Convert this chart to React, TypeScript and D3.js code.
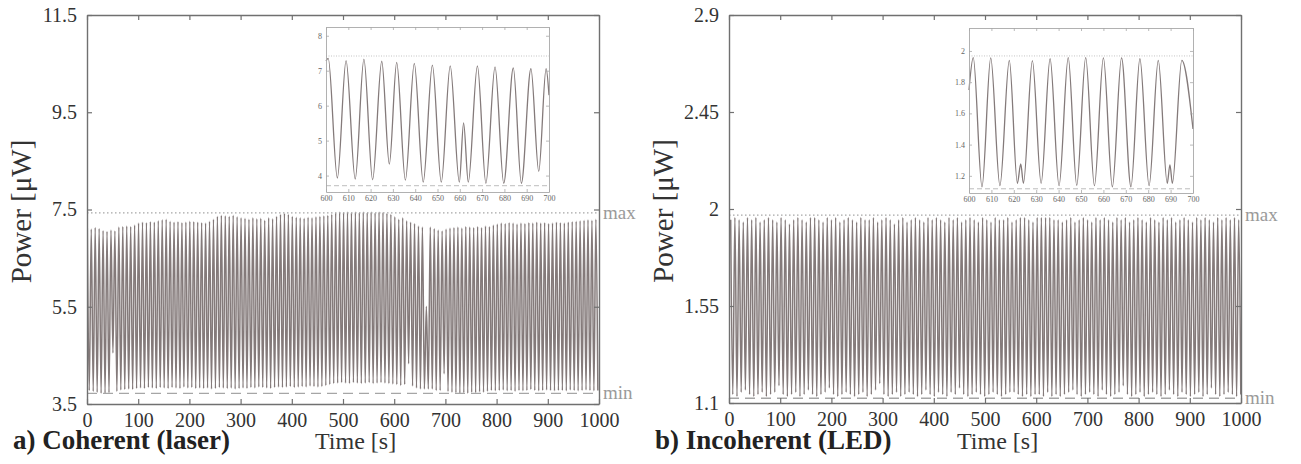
import React, { useEffect, useRef } from 'react';
import * as d3 from 'd3';

// time axis (both panels)
const X_TICKS = [0, 100, 200, 300, 400, 500, 600, 700, 800, 900, 1000];
const INSET_X_TICKS = [600, 610, 620, 630, 640, 650, 660, 670, 680, 690, 700];

// a) coherent (laser): one peak + one trough per cycle
const LASER_PERIOD = 7.7;
const LASER_T0 = 0.6;
const LASER_PEAKS = [
  7.12, 7.10, 7.13, 7.11, 7.07, 7.05, 7.08, 7.06, 7.14, 7.15,
  7.16, 7.15, 7.18, 7.22, 7.24, 7.23, 7.25, 7.24, 7.27, 7.29,
  7.30, 7.26, 7.24, 7.25, 7.23, 7.24, 7.26, 7.25, 7.24, 7.23,
  7.22, 7.26, 7.30, 7.36, 7.38, 7.37, 7.36, 7.38, 7.35, 7.33,
  7.32, 7.30, 7.33, 7.31, 7.32, 7.28, 7.33, 7.31, 7.36, 7.40,
  7.42, 7.40, 7.36, 7.34, 7.33, 7.32, 7.34, 7.33, 7.35, 7.36,
  7.37, 7.38, 7.40, 7.43, 7.45, 7.44, 7.45, 7.43, 7.45, 7.44,
  7.45, 7.44, 7.45, 7.43, 7.45, 7.44, 7.42, 7.40, 7.35, 7.30,
  7.33, 7.27, 7.24, 7.21, 7.16, 7.14, 5.51, 7.14, 7.11, 7.08,
  7.06, 7.10, 7.12, 7.13, 7.14, 7.12, 7.15, 7.14, 7.13, 7.15,
  7.13, 7.16, 7.15, 7.18, 7.20, 7.22, 7.21, 7.23, 7.22, 7.20,
  7.22, 7.21, 7.23, 7.22, 7.24, 7.22, 7.23, 7.21, 7.22, 7.24,
  7.23, 7.22, 7.24, 7.25, 7.26, 7.27, 7.28, 7.29, 7.28, 7.30,
];
const LASER_TROUGHS = [
  3.78, 3.76, 3.74, 3.72, 3.72, 3.73, 4.55, 3.76, 3.79, 3.80,
  3.81, 3.80, 3.82, 3.83, 3.82, 3.84, 3.83, 3.82, 3.84, 3.83,
  3.82, 3.84, 3.83, 3.82, 3.85, 3.83, 3.84, 3.82, 3.83, 3.82,
  3.83, 3.81, 3.82, 3.84, 3.83, 3.82, 3.83, 3.81, 3.82, 3.83,
  3.82, 3.84, 3.83, 3.85, 3.84, 3.83, 3.82, 3.84, 3.85, 3.84,
  3.85, 3.86, 3.84, 3.85, 3.86, 3.85, 3.87, 3.86, 3.85, 3.86,
  3.88, 3.90, 3.92, 3.93, 3.94, 3.93, 3.92, 3.94, 3.93, 3.92,
  3.93, 3.94, 3.92, 3.93, 3.94, 3.93, 3.92, 3.91, 3.90, 3.88,
  3.90, 4.33, 3.87, 3.83, 3.81, 3.81, 3.81, 3.81, 3.78, 3.78,
  4.12, 3.76, 3.74, 3.73, 3.72, 3.73, 3.72, 3.74, 3.73, 3.75,
  3.74, 3.76, 3.78, 3.77, 3.78, 3.79, 3.77, 3.78, 3.76, 3.78,
  3.77, 3.78, 3.80, 3.78, 3.77, 3.78, 3.79, 3.78, 3.77, 3.78,
  3.78, 3.77, 3.79, 3.78, 3.77, 3.78, 3.79, 3.78, 3.77, 3.78,
];
const LASER_Y_TICKS = [3.5, 5.5, 7.5, 9.5, 11.5];
const LASER_MAX = 7.43;
const LASER_MIN = 3.72;

// laser inset 600-700 s: extrema (time, value)
const LASER_INSET_T = [
  600, 601, 605.1, 609, 613.1, 617, 620.9, 625, 628.4, 631.7, 635.6, 639.6, 643.6, 647.7,
  651.7, 655.7, 659.8, 661.7, 663.8, 667.9, 671.7, 675.8, 679.7, 684, 687.6, 691.9, 695.4,
  698.7, 700,
];
const LASER_INSET_V = [
  7.28, 7.35, 3.93, 7.29, 3.9, 7.33, 3.88, 7.27, 4.33, 7.24, 3.87, 7.21, 3.81, 7.16,
  3.81, 7.14, 3.81, 5.51, 3.81, 7.14, 3.78, 7.11, 3.78, 7.08, 3.78, 7.06, 4.12,
  7.06, 6.3,
];
const LASER_INSET_Y_TICKS = [4, 5, 6, 7, 8];

// b) incoherent (LED)
const LED_PERIOD = 8.2;
const LED_T0 = 3.3;
const LED_PEAKS = [
  1.95, 1.96, 1.95, 1.94, 1.96, 1.95, 1.96, 1.94, 1.95, 1.96,
  1.95, 1.94, 1.96, 1.95, 1.93, 1.95, 1.96, 1.95, 1.94, 1.96,
  1.96, 1.95, 1.94, 1.96, 1.95, 1.96, 1.94, 1.95, 1.96, 1.95,
  1.94, 1.96, 1.95, 1.95, 1.96, 1.94, 1.95, 1.96, 1.95, 1.93,
  1.95, 1.96, 1.94, 1.95, 1.96, 1.95, 1.94, 1.96, 1.95, 1.96,
  1.95, 1.94, 1.96, 1.95, 1.96, 1.94, 1.95, 1.96, 1.95, 1.94,
  1.96, 1.95, 1.94, 1.96, 1.95, 1.95, 1.96, 1.94, 1.95, 1.96,
  1.96, 1.95, 1.94, 1.96, 1.96, 1.96, 1.96, 1.95, 1.95, 1.94,
  1.95, 1.96, 1.94, 1.95, 1.96, 1.95, 1.94, 1.96, 1.95, 1.96,
  1.95, 1.94, 1.96, 1.95, 1.96, 1.94, 1.95, 1.96, 1.95, 1.94,
  1.96, 1.95, 1.94, 1.96, 1.95, 1.96, 1.94, 1.95, 1.96, 1.95,
  1.94, 1.96, 1.95, 1.96, 1.95, 1.94, 1.96, 1.95, 1.96, 1.95,
  1.96, 1.95,
];
const LED_TROUGHS = [
  1.14, 1.13, 1.15, 1.16, 1.14, 1.13, 1.14, 1.15, 1.13, 1.14,
  1.15, 1.18, 1.14, 1.13, 1.14, 1.15, 1.13, 1.14, 1.16, 1.14,
  1.13, 1.14, 1.15, 1.17, 1.14, 1.13, 1.14, 1.15, 1.14, 1.13,
  1.14, 1.15, 1.13, 1.14, 1.16, 1.19, 1.14, 1.13, 1.14, 1.15,
  1.13, 1.14, 1.15, 1.14, 1.13, 1.14, 1.16, 1.14, 1.13, 1.15,
  1.14, 1.13, 1.15, 1.14, 1.17, 1.14, 1.13, 1.14, 1.15, 1.14,
  1.13, 1.14, 1.15, 1.14, 1.13, 1.14, 1.15, 1.15, 1.14, 1.13,
  1.14, 1.13, 1.14, 1.14, 1.13, 1.15, 1.13, 1.14, 1.13, 1.14,
  1.15, 1.16, 1.14, 1.13, 1.14, 1.15, 1.14, 1.13, 1.16, 1.14,
  1.13, 1.14, 1.15, 1.18, 1.14, 1.13, 1.14, 1.15, 1.13, 1.14,
  1.15, 1.14, 1.13, 1.14, 1.16, 1.14, 1.13, 1.15, 1.14, 1.13,
  1.14, 1.15, 1.13, 1.14, 1.17, 1.14, 1.13, 1.14, 1.15, 1.14,
  1.13, 1.14,
];
const LED_Y_TICKS = [1.1, 1.55, 2, 2.45, 2.9];
const LED_MAX = 1.972;
const LED_MIN = 1.122;

const LED_INSET_T = [
  600, 601.9, 605.8, 609.7, 613.8, 618, 621.6, 623.1, 624.3, 628.3, 632.2, 636.2, 640.2,
  644.3, 648.1, 652.1, 656, 660, 664, 668.1, 672.3, 676.3, 680.4, 684.5, 688.5, 689.7,
  690.8, 695, 700,
];
const LED_INSET_V = [
  1.75, 1.957, 1.13, 1.955, 1.137, 1.94, 1.152, 1.276, 1.152, 1.938, 1.152, 1.95, 1.137,
  1.957, 1.14, 1.957, 1.137, 1.955, 1.13, 1.955, 1.13, 1.95, 1.137, 1.94, 1.152, 1.27,
  1.152, 1.94, 1.5,
];
const LED_INSET_Y_TICKS = [1.2, 1.4, 1.6, 1.8, 2];

const SERIF = "'Liberation Serif', 'Times New Roman', Times, serif";
const TRACE = '#847a7a';
const AXIS = '#707070';
const TEXT = '#333';
const GUIDE = '#a6a6a6';

const line = d3.line().curve(d3.curveMonotoneX);

function drawPanel(svg, p) {
  const g = svg.append('g');
  const x = d3.scaleLinear().domain([0, 1000]).range([p.x0, p.x1]);
  const y = d3.scaleLinear().domain(p.yDomain).range([p.y1, p.y0]);

  svg.append('clipPath').attr('id', 'clip-' + p.id)
    .append('rect')
    .attr('x', p.x0).attr('y', p.y0)
    .attr('width', p.x1 - p.x0).attr('height', p.y1 - p.y0);

  const pts = p.peaks.flatMap((pk, i) => [
    [x(p.t0 + i * p.period), y(pk)],
    [x(p.t0 + (i + 0.5) * p.period), y(p.troughs[i])],
  ]);
  g.append('path')
    .attr('d', line(pts))
    .attr('fill', 'none')
    .attr('stroke', TRACE)
    .attr('stroke-width', 1.5)
    .attr('clip-path', `url(#clip-${p.id})`);

  // max / min guides
  g.append('line')
    .attr('x1', p.x0).attr('x2', p.x1)
    .attr('y1', y(p.maxV)).attr('y2', y(p.maxV))
    .attr('stroke', GUIDE).attr('stroke-width', 1.3).attr('stroke-dasharray', '1.5,2.5');
  g.append('line')
    .attr('x1', p.x0).attr('x2', p.x1)
    .attr('y1', y(p.minV)).attr('y2', y(p.minV))
    .attr('stroke', GUIDE).attr('stroke-width', 1.3).attr('stroke-dasharray', '10,6');

  const styleAxis = (sel) => {
    sel.attr('font-family', null).attr('font-size', null);
    sel.select('.domain').attr('stroke', AXIS).attr('stroke-width', 1.4);
    sel.selectAll('.tick line').attr('stroke', AXIS).attr('stroke-width', 1.2);
    sel.selectAll('.tick text')
      .style('font-family', SERIF).style('font-size', '20px')
      .attr('fill', TEXT);
  };

  g.append('g').attr('transform', `translate(0,${p.y1})`)
    .call(d3.axisBottom(x).tickValues(X_TICKS).tickSize(-5).tickSizeOuter(0).tickPadding(9).tickFormat(d3.format('d')))
    .call(styleAxis);
  g.append('g').attr('transform', `translate(0,${p.y0})`)
    .call(d3.axisTop(x).tickValues(X_TICKS).tickSize(-5).tickSizeOuter(0).tickFormat(() => ''))
    .call(styleAxis);
  g.append('g').attr('transform', `translate(${p.x0},0)`)
    .call(d3.axisLeft(y).tickValues(p.yTicks).tickSize(-5).tickSizeOuter(0).tickPadding(10).tickFormat((d) => String(d)))
    .call(styleAxis);
  g.append('g').attr('transform', `translate(${p.x1},0)`)
    .call(d3.axisRight(y).tickValues(p.yTicks).tickSize(-5).tickSizeOuter(0).tickFormat(() => ''))
    .call(styleAxis);

  const label = (txt, size, fill) =>
    g.append('text').text(txt)
      .style('font-family', SERIF).style('font-size', size + 'px')
      .attr('fill', fill);

  // max / min labels
  label('max', 19, '#9a9a9a').attr('x', p.x1 + 4).attr('y', y(p.maxV)).attr('dy', '0.3em');
  label('min', 19, '#9a9a9a').attr('x', p.x1 + 4).attr('y', y(p.minV)).attr('dy', '0.3em');

  // axis titles
  label('Power [μW]', 29, TEXT)
    .attr('transform', `translate(${p.x0 - 56},${(p.y0 + p.y1) / 2 + 2}) rotate(-90)`)
    .attr('text-anchor', 'middle');
  label('Time [s]', 24, TEXT).attr('x', p.x0 + 228).attr('y', 449);
  label(p.title, 27, '#222').attr('x', p.x0 - 74).attr('y', 449).attr('font-weight', 'bold');

  // inset
  const ins = p.inset;
  const ix = d3.scaleLinear().domain([600, 700]).range([ins.x0, ins.x1]);
  const iy = d3.scaleLinear().domain(ins.yDomain).range([ins.y1, ins.y0]);
  const ig = g.append('g');
  ig.append('rect')
    .attr('x', ins.x0).attr('y', ins.y0)
    .attr('width', ins.x1 - ins.x0).attr('height', ins.y1 - ins.y0)
    .attr('fill', '#fff');
  ig.append('line')
    .attr('x1', ins.x0).attr('x2', ins.x1)
    .attr('y1', iy(ins.maxV)).attr('y2', iy(ins.maxV))
    .attr('stroke', '#bdbdbd').attr('stroke-width', 0.9).attr('stroke-dasharray', '1,1.5');
  ig.append('line')
    .attr('x1', ins.x0).attr('x2', ins.x1)
    .attr('y1', iy(ins.minV)).attr('y2', iy(ins.minV))
    .attr('stroke', '#bdbdbd').attr('stroke-width', 1).attr('stroke-dasharray', '5,3');
  ig.append('path')
    .attr('d', line(ins.t.map((t, i) => [ix(t), iy(ins.v[i])])))
    .attr('fill', 'none').attr('stroke', TRACE).attr('stroke-width', 1.3);

  const styleInset = (sel) => {
    sel.attr('font-family', null).attr('font-size', null);
    sel.select('.domain').attr('stroke', '#a8a8a8').attr('stroke-width', 0.9);
    sel.selectAll('.tick line').attr('stroke', '#a8a8a8').attr('stroke-width', 0.8);
    sel.selectAll('.tick text')
      .style('font-family', SERIF).style('font-size', '8px')
      .attr('fill', '#666');
  };
  ig.append('g').attr('transform', `translate(0,${ins.y1})`)
    .call(d3.axisBottom(ix).tickValues(INSET_X_TICKS).tickSize(-3).tickSizeOuter(0).tickPadding(3))
    .call(styleInset);
  ig.append('g').attr('transform', `translate(0,${ins.y0})`)
    .call(d3.axisTop(ix).tickValues(INSET_X_TICKS).tickSize(-3).tickSizeOuter(0).tickFormat(() => ''))
    .call(styleInset);
  ig.append('g').attr('transform', `translate(${ins.x0},0)`)
    .call(d3.axisLeft(iy).tickValues(ins.yTicks).tickSize(-3).tickSizeOuter(0).tickPadding(4).tickFormat((d) => String(d)))
    .call(styleInset);
  ig.append('g').attr('transform', `translate(${ins.x1},0)`)
    .call(d3.axisRight(iy).tickValues(ins.yTicks).tickSize(-3).tickSizeOuter(0).tickFormat(() => ''))
    .call(styleInset);
}

export default function App() {
  const svgRef = useRef(null);

  useEffect(() => {
    const svg = d3.select(svgRef.current);
    svg.selectAll('*').remove();

    drawPanel(svg, {
      id: 'laser',
      x0: 87, x1: 599, y0: 15, y1: 404,
      yDomain: [3.5, 11.5], yTicks: LASER_Y_TICKS,
      peaks: LASER_PEAKS, troughs: LASER_TROUGHS,
      t0: LASER_T0, period: LASER_PERIOD,
      maxV: LASER_MAX, minV: LASER_MIN,
      title: 'a) Coherent (laser)',
      inset: {
        x0: 326, x1: 549, y0: 27, y1: 192,
        yDomain: [3.53, 8.25], yTicks: LASER_INSET_Y_TICKS,
        t: LASER_INSET_T, v: LASER_INSET_V,
        maxV: 7.42, minV: 3.71,
      },
    });

    drawPanel(svg, {
      id: 'led',
      x0: 729, x1: 1241, y0: 15, y1: 403,
      yDomain: [1.1, 2.9], yTicks: LED_Y_TICKS,
      peaks: LED_PEAKS, troughs: LED_TROUGHS,
      t0: LED_T0, period: LED_PERIOD,
      maxV: LED_MAX, minV: LED_MIN,
      title: 'b) Incoherent (LED)',
      inset: {
        x0: 969, x1: 1193, y0: 28, y1: 193,
        yDomain: [1.09, 2.147], yTicks: LED_INSET_Y_TICKS,
        t: LED_INSET_T, v: LED_INSET_V,
        maxV: 1.968, minV: 1.117,
      },
    });
  }, []);

  return (
    <svg
      ref={svgRef}
      width={1301}
      height={464}
      style={{ position: 'absolute', left: 0, top: 0, background: '#fff' }}
    />
  );
}
